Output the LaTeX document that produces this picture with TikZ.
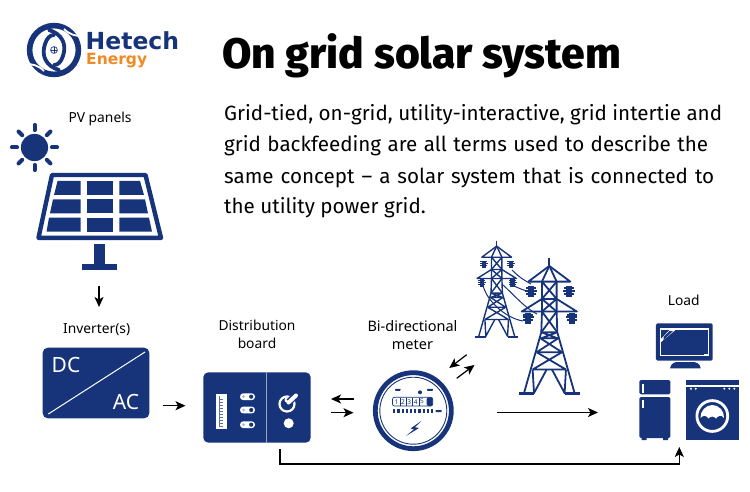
\documentclass[tikz,border=0pt]{standalone}
\usepackage{fontspec}
\setmainfont{Fira Sans}
\newfontfamily\titlefont{Fira Sans ExtraBold}
\newfontfamily\lblfont{Noto Sans}
\newfontfamily\logofont{DejaVu Sans}
\usetikzlibrary{arrows.meta}
\definecolor{hblue}{HTML}{17347B}
\definecolor{horange}{HTML}{F08A24}
\def\twlw{1.7pt}
\tikzset{
  x=1pt,y=-1pt,
  lbl/.style={font=\lblfont\fontsize{13.8}{16}\selectfont,text=black,inner sep=0pt,align=center},
  bodytxt/.style={font=\fontsize{20.6}{24}\selectfont,anchor=base west,inner sep=0pt,text=black},
  flow/.style={draw=black,line width=1.2pt,-{Stealth[length=10pt,width=9pt,inset=2.5pt]}},
  panelbox/.style={fill=hblue,rounded corners=5pt},
  tw/.style={draw=hblue,line width=\twlw,line join=round},
  wire/.style={draw=hblue,line width=1pt},
  ins/.style={fill=hblue},
  tower/.pic={
    \begin{scope}[x=#1,y=-#1]
    \draw[tw] (0,0)--(0,23);
    \draw[tw] (-63,70)--(0,23)--(63,70)--cycle;
    \draw[tw] (-83,160)--(-22,122)--(22,122)--(83,160)--cycle;
    \draw[tw] (0,23)--(-22,70)--(-22,160)--(-24,222)--(-76,405);
    \draw[tw] (0,23)--(22,70)--(22,160)--(24,222)--(76,405);
    \draw[tw] (-22,70)--(22,122)(22,70)--(-22,122);
    \draw[tw] (-22,122)--(22,160)(22,122)--(-22,160);
    \draw[tw] (-22,160)--(24,222)(22,160)--(-24,222);
    \draw[tw] (-24,222)--(24,240)(-24,240)--(24,222)(-24,222)--(24,222)(-27,240)--(27,240);
    \draw[tw] (-27,240)--(38,282)(27,240)--(-38,282)(-38,282)--(38,282);
    \draw[tw] (-38,282)--(50,334)(38,282)--(-50,334)(-50,334)--(50,334);
    \draw[tw] (-50,334)--(-46,405)--(-8,334) (50,334)--(46,405)--(8,334);
    \fill[hblue] (-91,402) rectangle (-46,411);
    \fill[hblue] (46,402) rectangle (91,411);
    \foreach \ix/\iy in {-55/100,59/100,-63/180,67/180}{
      \fill[ins] (\ix-15,\iy-14) rectangle (\ix+15,\iy-8);
      \fill[ins] (\ix-17,\iy-5.5) rectangle (\ix+17,\iy+0.5);
      \fill[ins] (\ix-15,\iy+3) rectangle (\ix+15,\iy+9);
      \fill[ins] (\ix-9,\iy-16) rectangle (\ix+9,\iy+16);
    }
    \end{scope}
  }
}
\begin{document}
\begin{tikzpicture}
\useasboundingbox (0,0) rectangle (750,492);
\fill[white] (0,0) rectangle (750,492);

% --- logo
\draw[hblue,line width=5.6pt] (54,50) circle (24.4);
\draw[hblue,line width=3.8pt,line cap=round] (59,70) .. controls (46,66) and (41,56) .. (45,44) .. controls (47,38) and (50,35) .. (54,35);
\draw[hblue,line width=3.8pt,line cap=round] (49,30) .. controls (62,34) and (67,44) .. (63,56) .. controls (61,62) and (58,65) .. (54,65);
\draw[white,line width=1.8pt] (82,36) .. controls (76,36) and (70,35) .. (64,29);
\draw[white,line width=1.8pt] (26,64) .. controls (32,64) and (38,65) .. (44,71);
\draw[hblue,line width=0.7pt] (54,50) circle (3.4);
\draw[hblue,line width=0.4pt] (54,46.6)--(54,53.4) (50.6,50)--(57.4,50);
\node[inner sep=0pt,anchor=base west,text=hblue,font=\logofont\bfseries\fontsize{23.5}{23}\selectfont] (logoa) at (85.5,50) {Hetech};
\node[inner sep=0pt,anchor=base west,text=horange,font=\logofont\bfseries\fontsize{15.5}{15}\selectfont] (logob) at (86,65) {Energy};

% --- title & text
\node[inner sep=0pt,anchor=base west,text=black,font=\titlefont\fontsize{42.6}{46}\selectfont] (title) at (222,69) {On grid solar system};
\node[bodytxt] (t1) at (224,121) {Grid-tied, on-grid, utility-interactive, grid intertie and};
\node[bodytxt] (t2) at (224,152) {\makebox[484pt][s]{grid backfeeding are all terms used to describe the}};
\node[bodytxt] (t3) at (224,183) {\makebox[490pt][s]{same concept -- a solar system that is connected to}};
\node[bodytxt] (t4) at (224,214) {the utility power grid.};

% --- labels
\node[lbl] (lpv) at (100,119) {PV panels};
\node[lbl] (linv) at (96.7,330) {Inverter(s)};
\node[lbl] (ldb) at (257,334) {Distribution\\[2pt]board};
\node[lbl,font=\lblfont\fontsize{14.5}{16}\selectfont] (lm) at (412.5,335) {Bi-directional\\[2pt]meter};
\node[lbl] (lload) at (683.7,300) {Load};

% --- sun
\fill[hblue] (34.5,147.5) circle (13.6);
\foreach \a in {0,45,...,315}{
  \draw[hblue,line width=4pt,line cap=round] (34.5,147.5)++(\a:17.4) -- ++(\a:5.2);
}

% --- PV panel
\draw[hblue,line width=4.4pt,line join=round] (52,175) -- (145.5,175) -- (161,237.8) -- (38.5,237.8) -- cycle;
\fill[hblue] (57.5,181) -- (80.7,181) -- (80.7,195) -- (54,195) -- cycle;
\fill[hblue] (86.7,181) rectangle (113.3,195);
\fill[hblue] (119.3,181) -- (140,181) -- (144,195) -- (119.3,195) -- cycle;
\fill[hblue] (53,199.3) -- (80.7,199.3) -- (80.7,213.3) -- (50,213.3) -- cycle;
\fill[hblue] (86.7,199.3) rectangle (113.3,213.3);
\fill[hblue] (119.3,199.3) -- (145,199.3) -- (148,213.3) -- (119.3,213.3) -- cycle;
\fill[hblue] (49,217.7) -- (80.7,217.7) -- (80.7,231.7) -- (46.5,231.7) -- cycle;
\fill[hblue] (86.7,217.7) rectangle (113.3,231.7);
\fill[hblue] (119.3,217.7) -- (149,217.7) -- (152,231.7) -- (119.3,231.7) -- cycle;
\fill[hblue] (94,243.5) rectangle (105,264);
\fill[hblue] (81.7,263.5) rectangle (117.3,270);
\coordinate (pvout) at (99,286);

% --- inverter
\node[panelbox,minimum width=106.6pt,minimum height=70.6pt,inner sep=0pt] (inv) at (96,383) {};
\draw[white,line width=1pt] (145,352) -- (48.3,414);
\node[inner sep=0pt,text=white,font=\lblfont\fontsize{21}{21}\selectfont] (dc) at (66,365) {DC};
\node[inner sep=0pt,text=white,font=\lblfont\fontsize{21}{21}\selectfont] (ac) at (126,402) {AC};
\draw[flow] (pvout) -- (99,307);

% --- distribution board
\node[panelbox,minimum width=107.4pt,minimum height=70.4pt,inner sep=0pt] (db) at (257,407.5) {};
\draw[white!55!hblue,line width=1pt] (266.7,372.3) -- (266.7,442.7);
\fill[white] (215.7,394) rectangle (226.7,429.3);
\draw[hblue!70,line width=0.8pt] (219.5,396) -- (219.5,427);
\foreach \yy in {399,402,...,426}{\draw[hblue!70,line width=0.4pt] (219.5,\yy) -- (222.5,\yy);}
\foreach \yy in {396.7,410,424.7}{
  \fill[white,rounded corners=3.3pt] (240,\yy-3.4) rectangle (255,\yy+3.4);
  \fill[hblue] (251.2,\yy) circle (2.1);
  \fill[hblue!35!white] (243.5,\yy) circle (1.5);
}
\draw[white,line width=2.2pt] (287,404) circle (7.5);
\fill[white] (287,400) circle (2.5);
\draw[hblue,line width=7pt] (289,402) -- (297,394);
\draw[white,line width=4pt,line cap=round] (288.5,402.5) -- (296,395.5);
\fill[white] (288.7,423.3) circle (5);

% --- meter
\draw[hblue,line width=4.8pt] (413.3,410.7) circle (38);
\draw[hblue,line width=0.9pt] (413.3,410.7) circle (33.5);
\node[inner sep=0pt] (meter) at (413.3,410.7) {};
\draw[hblue,line width=0.7pt,rounded corners=2pt] (392.5,397.3) rectangle (432.7,406);
\fill[hblue,rounded corners=2pt] (426.7,397.3) rectangle (432.7,406);
\foreach \i in {1,...,5}{
  \node[inner sep=0pt,text=hblue,font=\lblfont\fontsize{6.5}{6.5}\selectfont] (d\i) at (390.3+6.35*\i,401.7) {\i};
}
\foreach \i in {1,...,4}{\draw[hblue,line width=0.35pt] (393.5+6.35*\i,397.6) -- (393.5+6.35*\i,405.7);}
\foreach \i in {0,...,9}{\fill[hblue] (393.2+4.2*\i,409.3) rectangle ++(2.2,4);}
\fill[hblue,rounded corners=0.7pt] (435.5,410) rectangle (441.7,412.2);
\fill[hblue,rounded corners=0.7pt] (395,388.8) rectangle (400.5,390.8);
\fill[hblue,rounded corners=0.7pt] (427,388.8) rectangle (433,390.8);
\fill[hblue] (420,392.3) circle (2);
\fill[hblue] (421.7,420.7) -- (410.5,428.5) -- (414,429.2) -- (406,436) -- (419,428) -- (415,427.2) -- cycle;

% --- towers
\def\twlw{1.8pt}
\pic at (549.3,258.3) {tower=0.333pt};
\def\twlw{1.4pt}
\pic at (496.7,240.7) {tower=0.236pt};
\draw[wire] (512,270) .. controls (520,278) and (524,280) .. (531,284);
\draw[wire] (511,284) .. controls (520,290) and (527,290) .. (530,293);
\draw[wire] (483,285) .. controls (486,300) and (505,318) .. (523,321);
\draw[wire] (503,285) .. controls (515,296) and (525,308) .. (537,314);

% --- load
\node[fill=hblue,rounded corners=1.5pt,minimum width=56.7pt,minimum height=37.4pt,inner sep=0pt] (tv) at (684.3,342) {};
\draw[white,line width=1.1pt] (660.9,329) rectangle (708.2,355.7);
\fill[white] (661,342) -- (661,339) -- (670,329.5) -- (676,329.5) -- cycle;
\fill[hblue] (663.5,337) -- (669.5,331) -- (673,331) -- (663.5,340) -- cycle;
\fill[white] (704,356) rectangle (708,354);
\fill[hblue] (670,368.3) .. controls (671,363) and (675,362) .. (678,362) -- (692,362) .. controls (696,362) and (700,363) .. (700.7,368.3) -- cycle;
\fill[hblue,rounded corners=1.5pt] (639.3,380) rectangle (670.3,394.3);
\fill[hblue,rounded corners=1.5pt] (639.3,397) rectangle (670.3,438);
\fill[hblue] (641.5,436) rectangle (646.5,440) (663,436) rectangle (668,440);
\fill[white] (641.8,384) rectangle (644,393);
\fill[white] (641.8,400) rectangle (644,408.3);
\node[fill=hblue,minimum width=53pt,minimum height=53.6pt,inner sep=0pt] (wash) at (712.5,413.5) {};
\fill[hblue] (686,380) rectangle (739,385.3);
\foreach \xx in {691,695.7,724.3,729.3,734.3}{\fill[white] (\xx,388.7) circle (1.1);}
\draw[white,line width=2.8pt] (712.3,416) circle (15.4);
\fill[white] (700.5,418) .. controls (700,411) and (706,405) .. (712.3,405) .. controls (719,405) and (724.5,411) .. (724,418)
  .. controls (721,414) and (718,416) .. (716,418.5) .. controls (714,416) and (710.5,416) .. (708.5,418.5) .. controls (706,415) and (703,415) .. (700.5,418) -- cycle;

% --- connectors
\coordinate (dbout) at (280,449.3);
\coordinate (loadin) at (679.3,447);
\draw[flow] (dbout) -- (280,464) -- (679.3,464) -- (loadin);
\coordinate (a1) at (162.7,405.7); \coordinate (a2) at (185.5,405.7);
\draw[flow] (a1) -- (a2);
\coordinate (b1) at (354,399); \coordinate (b2) at (331,399);
\draw[flow] (b1) -- (b2);
\coordinate (c1) at (330.5,412.7); \coordinate (c2) at (353.5,412.7);
\draw[flow] (c1) -- (c2);
\coordinate (e1) at (466.7,354.7); \coordinate (e2) at (449.3,368);
\draw[flow] (e1) -- (e2);
\coordinate (f1) at (456.7,378.3); \coordinate (f2) at (474.5,365);
\draw[flow] (f1) -- (f2);
\coordinate (g1) at (497.3,412.5); \coordinate (g2) at (598,412.5);
\draw[flow] (g1) -- (g2);
\end{tikzpicture}
\end{document}
